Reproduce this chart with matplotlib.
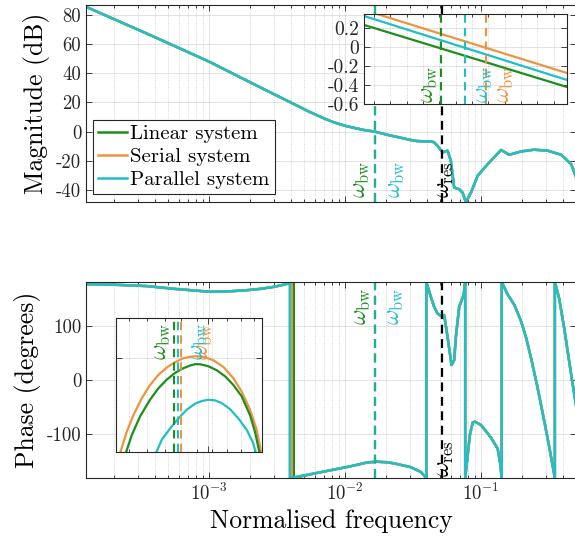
import numpy as np
import matplotlib
matplotlib.use('Agg')
import matplotlib.pyplot as plt
from matplotlib.ticker import (FixedLocator, MultipleLocator, NullFormatter,
                               NullLocator, FuncFormatter)

plt.rcParams['font.family'] = 'cmr10'
plt.rcParams['mathtext.fontset'] = 'cm'
plt.rcParams['axes.unicode_minus'] = False
plt.rcParams['axes.formatter.use_mathtext'] = True

c_lin = '#1b8f1b'
c_ser = '#ef9340'
c_par = '#20bfc8'
c_ax = '#262626'

# magnitude (the three systems coincide at this scale)
mag_f = [1.237e-4, 3.67e-4, 1.0e-3, 2.19e-3, 4.694e-3, 5.4e-3, 6.234e-3, 7.2e-3,
         8.27e-3, 9.9e-3, 0.01161, 0.0138, 0.01651, 0.0205, 0.02568, 0.0298,
         0.03410, 0.04276, 0.04498, 0.04791, 0.05217, 0.05678, 0.06005, 0.06353,
         0.06917, 0.07327, 0.07749, 0.08438, 0.09453, 0.1121, 0.1405, 0.1618,
         0.1973, 0.2461, 0.3107, 0.3895, 0.4615, 0.5025]
mag_db = [85.7, 66.3, 48.0, 32.0, 16.7, 13.8, 11.2, 8.6,
          6.4, 4.1, 2.6, 1.1, 0.0, -2.2, -4.2, -5.6,
          -6.5, -6.8, -7.2, -9.7, -14.3, -13.1, -20.0, -38.4,
          -39.5, -41.9, -48.5, -41.9, -30.3, -22.3, -12.6, -15.9,
          -13.6, -12.4, -13.1, -15.9, -22.3, -31.5]

# phase: low-frequency part, wrap frequency per system, then common part
ph_f_head = [1.24e-4, 2.0e-4, 3.47e-4, 5.5e-4, 1.02e-3, 1.4e-3, 1.90e-3, 2.4e-3,
             2.97e-3, 3.4e-3, 3.83e-3]
ph_head = [176.0, 175.0, 172.5, 167.5, 162.0, 162.8, 165.0, 167.5,
           171.0, 174.0, 177.4]
wrap_lin, wrap_ser, wrap_par = 4.19e-3, 4.05e-3, 3.915e-3
ph_f_tail = [7.39e-3, 0.01098, 0.0145, 0.0170, 0.0200, 0.0228, 0.0304, 0.0361,
             0.03961, 0.03961, 0.0425, 0.04522, 0.04791, 0.05156, 0.05362, 0.05678,
             0.06077, 0.06353, 0.06539, 0.06917, 0.07453, 0.07658, 0.07658, 0.0830,
             0.0870, 0.0903, 0.1000, 0.1121, 0.1186, 0.1327, 0.1380, 0.1422,
             0.1422, 0.1446, 0.1574, 0.1761, 0.1973, 0.2149, 0.2339, 0.2590,
             0.2869, 0.3176, 0.3499, 0.3499, 0.3763, 0.4119, 0.4536, 0.5025]
ph_tail = [-167.0, -158.5, -151.5, -150.1, -151.0, -153.0, -160.1, -168.8,
           -180, 180, 155, 134.5, 122.3, 116.2, 119.3, 79.5,
           27.5, 36.7, 79.5, 134.5, 156, 180, -180, -100,
           -78, -76.5, -82.6, -98, -106, -126, -150, -180,
           180, 176, 157, 138, 108, 78, 40, -10,
           -65, -122, -180, 180, 150, 92, 22, -49]

# zoom around the crossover, magnitude (dB)
zm_f = [0.01604, 0.01728]
zm_lin = [0.232, -0.421]
zm_ser = [0.389, -0.274]
zm_par = [0.326, -0.347]

# zoom around the phase hump (degrees)
zp_f_ser = [0.014325, 0.014600, 0.014853, 0.015176, 0.015506, 0.015842, 0.016187,
            0.016539, 0.016898, 0.017192, 0.017490, 0.017794, 0.018259, 0.018737,
            0.019227, 0.019645, 0.020072, 0.020421, 0.020686]
zp_ser = [-151.45, -151.10, -150.85, -150.60, -150.40, -150.25, -150.14,
          -150.06, -150.00, -149.98, -149.97, -149.98, -150.03, -150.13,
          -150.30, -150.50, -150.77, -151.07, -151.45]
zp_f_lin = [0.014537, 0.014789, 0.015110, 0.015506, 0.015842, 0.016187, 0.016539,
            0.016898, 0.017192, 0.017415, 0.017641, 0.018024, 0.018417, 0.018817,
            0.019227, 0.019645, 0.020072, 0.020333, 0.020597]
zp_lin = [-151.45, -151.15, -150.87, -150.62, -150.45, -150.32, -150.22,
          -150.15, -150.11, -150.09, -150.09, -150.12, -150.18, -150.27,
          -150.40, -150.57, -150.85, -151.10, -151.45]
zp_f_par = [0.015706, 0.015979, 0.016326, 0.016681, 0.017044, 0.017415, 0.017717,
            0.018024, 0.018338, 0.018657, 0.019062, 0.019476, 0.019900, 0.020210,
            0.020421]
zp_par = [-151.45, -151.22, -151.05, -150.90, -150.77, -150.68, -150.64,
          -150.62, -150.63, -150.67, -150.76, -150.90, -151.07, -151.25,
          -151.45]

w_bw_lin = 0.016508
w_bw_ser = 0.016783
w_bw_par = 0.016660
w_res = 0.05156

labels = ['Linear system', 'Serial system', 'Parallel system']
colors = [c_lin, c_ser, c_par]
dash = (0, (4, 2.5))


def style(ax, minor_x=True):
    ax.tick_params(which='both', direction='in', top=True, right=True,
                   colors=c_ax, width=0.6, labelsize=13.5)
    ax.tick_params(which='major', length=4)
    ax.tick_params(which='minor', length=2)
    for s in ax.spines.values():
        s.set_color(c_ax)
        s.set_linewidth(0.8)
    ax.grid(True, which='major', color=c_ax, alpha=0.15, lw=0.6)
    if minor_x:
        ax.grid(True, which='minor', axis='x', color=c_ax, alpha=0.25, ls=':', lw=0.6)
    ax.set_axisbelow(True)


def wlabel(ax, x, txt, col, dx, dy, va):
    y = 0 if va == 'bottom' else 1
    ax.annotate(txt, xy=(x, y), xycoords=('data', 'axes fraction'),
                xytext=(dx, dy), textcoords='offset points', rotation=90,
                ha='center', va=va, color=col, fontsize=17)


int_fmt = FuncFormatter(lambda v, p: '%d' % round(v))

fig = plt.figure(figsize=(5.75, 5.42), dpi=100)
ax1 = fig.add_axes([0.1496, 0.6273, 0.8520, 0.3635])
ax2 = fig.add_axes([0.1496, 0.1181, 0.8520, 0.3616])

# magnitude
for lab, col in zip(labels, colors):
    ax1.plot(mag_f, mag_db, color=col, lw=1.8, label=lab)
ax1.set_xscale('log')
ax1.set_xlim(1.24e-4, 0.5)
ax1.set_ylim(-48.3, 86.9)
ax1.yaxis.set_major_locator(FixedLocator([-40, -20, 0, 20, 40, 60, 80]))
ax1.yaxis.set_major_formatter(int_fmt)
style(ax1)
ax1.tick_params(labelbottom=False)
ax1.set_ylabel('Magnitude (dB)', fontsize=18.5)
ax1.axvline(w_bw_lin, color=c_lin, ls=dash, lw=1.6)
ax1.axvline(w_bw_par, color=c_par, ls=dash, lw=1.6, alpha=0.7)
ax1.axvline(w_res, color='black', ls=dash, lw=1.6)
wlabel(ax1, w_bw_lin, r'$\omega_{\mathrm{bw}}$', c_lin, -10, 3, 'bottom')
wlabel(ax1, w_bw_par, r'$\omega_{\mathrm{bw}}$', c_par, 15, 3, 'bottom')
wlabel(ax1, w_res, r'$\omega_{\mathrm{res}}$', 'black', 2.5, 3, 'bottom')
leg = ax1.legend(loc='lower left', bbox_to_anchor=(0.014, 0.04), borderaxespad=0,
                 fontsize=15, handlelength=1.4, handletextpad=0.15,
                 labelspacing=0.2, borderpad=0.25, fancybox=False, framealpha=1)
leg.get_frame().set_edgecolor(c_ax)
leg.get_frame().set_linewidth(0.8)

# phase
heads = [wrap_lin, wrap_ser, wrap_par]
for lab, col, fw in zip(labels, colors, heads):
    f = ph_f_head + [fw, fw] + ph_f_tail
    p = ph_head + [180, -180] + ph_tail
    ax2.plot(f, p, color=col, lw=1.8, label=lab)
ax2.set_xscale('log')
ax2.set_xlim(1.24e-4, 0.5)
ax2.set_ylim(-180, 180)
ax2.yaxis.set_major_locator(FixedLocator([-100, 0, 100]))
ax2.yaxis.set_major_formatter(int_fmt)
style(ax2)
ax2.set_ylabel('Phase (degrees)', fontsize=18.5)
ax2.set_xlabel('Normalised frequency', fontsize=18.5)
ax2.axvline(w_bw_lin, color=c_lin, ls=dash, lw=1.6)
ax2.axvline(w_bw_par, color=c_par, ls=dash, lw=1.6, alpha=0.7)
ax2.axvline(w_res, color='black', ls=dash, lw=1.6)
wlabel(ax2, w_bw_lin, r'$\omega_{\mathrm{bw}}$', c_lin, -9, -4, 'top')
wlabel(ax2, w_bw_par, r'$\omega_{\mathrm{bw}}$', c_par, 14, -4, 'top')
wlabel(ax2, w_res, r'$\omega_{\mathrm{res}}$', 'black', 2.5, 1, 'bottom')

# inset: magnitude near crossover
ins1 = fig.add_axes([0.6330, 0.8081, 0.3530, 0.1661])
ins1.plot(zm_f, zm_lin, color=c_lin, lw=1.6)
ins1.plot(zm_f, zm_ser, color=c_ser, lw=1.6)
ins1.plot(zm_f, zm_par, color=c_par, lw=1.6)
ins1.axvline(w_bw_lin, color=c_lin, ls=dash, lw=1.5)
ins1.axvline(w_bw_par, color=c_par, ls=dash, lw=1.5)
ins1.axvline(w_bw_ser, color=c_ser, ls=dash, lw=1.5)
ins1.set_xlim(0.01604, 0.01728)
ins1.set_ylim(-0.6, 0.347)
ins1.xaxis.set_major_locator(NullLocator())
ins1.xaxis.set_minor_locator(MultipleLocator(0.0001))
ins1.yaxis.set_major_locator(FixedLocator([-0.6, -0.4, -0.2, 0, 0.2]))
ins1.yaxis.set_major_formatter(FuncFormatter(lambda v, p: '%g' % round(v, 2)))
style(ins1)
ins1.tick_params(labelsize=14)
wlabel(ins1, w_bw_lin, r'$\omega_{\mathrm{bw}}$', c_lin, -8.5, 1, 'bottom')
wlabel(ins1, w_bw_par, r'$\omega_{\mathrm{bw}}$', c_par, 13, 1, 'bottom')
wlabel(ins1, w_bw_ser, r'$\omega_{\mathrm{bw}}$', c_ser, 14, 1, 'bottom')

# inset: phase hump
ins2 = fig.add_axes([0.2017, 0.1661, 0.2539, 0.2472])
ins2.plot(zp_f_ser, zp_ser, color=c_ser, lw=1.6)
ins2.plot(zp_f_lin, zp_lin, color=c_lin, lw=1.6)
ins2.plot(zp_f_par, zp_par, color=c_par, lw=1.6)
ins2.axvline(w_bw_lin, color=c_lin, ls=dash, lw=1.5)
ins2.axvline(w_bw_par, color=c_par, ls=dash, lw=1.5)
ins2.axvline(w_bw_ser, color=c_ser, ls=dash, lw=1.5)
ins2.set_xscale('log')
ins2.set_xlim(0.0142, 0.0207)
ins2.set_ylim(-151.4, -149.4)
ins2.xaxis.set_major_locator(FixedLocator([0.018]))
ins2.xaxis.set_minor_locator(MultipleLocator(0.0007))
ins2.xaxis.set_major_formatter(NullFormatter())
ins2.xaxis.set_minor_formatter(NullFormatter())
ins2.yaxis.set_major_locator(FixedLocator([-150]))
ins2.yaxis.set_major_formatter(NullFormatter())
style(ins2)
wlabel(ins2, w_bw_lin, r'$\omega_{\mathrm{bw}}$', c_lin, -9, -3, 'top')
wlabel(ins2, w_bw_ser, r'$\omega_{\mathrm{bw}}$', c_ser, 16.5, -3, 'top')
wlabel(ins2, w_bw_par, r'$\omega_{\mathrm{bw}}$', c_par, 15, -3, 'top')

fig.savefig('out.png', dpi=100)
